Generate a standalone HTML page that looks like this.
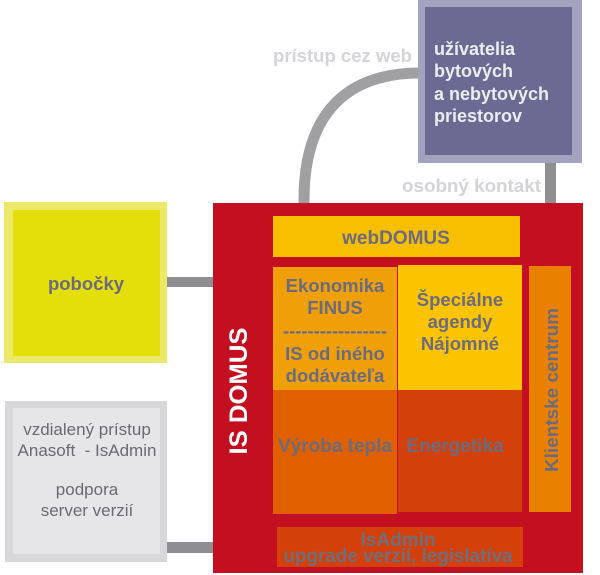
<!DOCTYPE html>
<html>
<head>
<meta charset="utf-8">
<style>
html,body{margin:0;padding:0;background:#fff;width:600px;height:575px;overflow:hidden;}
svg{display:block;}
text{font-family:"Liberation Sans", Arial, sans-serif;}
</style>
</head>
<body>
<svg width="600" height="575" viewBox="0 0 600 575" xmlns="http://www.w3.org/2000/svg">
  <!-- connectors -->
  <path d="M304 222 L304 200 C304 110 350 73 420 73" fill="none" stroke="#a0a0a2" stroke-width="11"/>
  <rect x="545" y="158" width="11" height="110" fill="#909094"/>
  <rect x="165" y="277" width="50" height="10" fill="#8e8e92"/>
  <rect x="165" y="542" width="110" height="11" fill="#8e8e92"/>

  <!-- labels -->
  <text x="273" y="62" font-size="18" font-weight="bold" fill="#d4d4d8" textLength="139" lengthAdjust="spacingAndGlyphs">prístup cez web</text>
  <text x="402" y="192" font-size="18" font-weight="bold" fill="#d4d4d8" textLength="139" lengthAdjust="spacingAndGlyphs">osobný kontakt</text>

  <!-- users box -->
  <rect x="418" y="0" width="164" height="163" fill="#a3a3bf"/>
  <rect x="425" y="7" width="147" height="148" fill="#6b6a93"/>
  <g font-size="18" font-weight="bold" fill="#ececf2">
    <text x="434" y="55">užívatelia</text>
    <text x="434" y="77">bytových</text>
    <text x="434" y="100">a nebytových</text>
    <text x="434" y="122">priestorov</text>
  </g>

  <!-- pobocky -->
  <rect x="4" y="202" width="163" height="161" fill="#ece86a"/>
  <rect x="13" y="210" width="147" height="146" fill="#e4df0a"/>
  <text x="86" y="290" font-size="18.5" font-weight="bold" fill="#6a6a80" text-anchor="middle">pobočky</text>

  <!-- gray box -->
  <rect x="5" y="401" width="162" height="161" fill="#d8d8da"/>
  <rect x="13" y="408" width="147" height="146" fill="#e6e6e8"/>
  <g font-size="17" fill="#6a6a72" text-anchor="middle">
    <text x="87" y="435">vzdialený prístup</text>
    <text x="87" y="456" xml:space="preserve">Anasoft  - IsAdmin</text>
    <text x="87" y="495">podpora</text>
    <text x="87" y="516">server verzií</text>
  </g>

  <!-- IS DOMUS red container -->
  <rect x="213" y="203" width="370" height="370" fill="#c40f21"/>
  <text transform="translate(247,391) rotate(-90)" font-size="25" font-weight="bold" fill="#ffffff" text-anchor="middle" textLength="127" lengthAdjust="spacingAndGlyphs">IS DOMUS</text>

  <!-- webDOMUS -->
  <rect x="273" y="216" width="247" height="41" fill="#f8bf00"/>
  <text x="396" y="244" font-size="19" font-weight="bold" fill="#6b6b80" text-anchor="middle">webDOMUS</text>

  <!-- columns -->
  <rect x="273" y="267" width="124" height="123" fill="#ef9f08"/>
  <rect x="398" y="265" width="124" height="125" fill="#fcc400"/>
  <rect x="273" y="390" width="124" height="124" fill="#e06000"/>
  <rect x="398" y="390" width="124" height="122" fill="#d4400a"/>
  <rect x="529" y="266" width="42" height="246" fill="#ea8000"/>

  <g font-size="18.5" font-weight="bold" fill="#6b6b80" text-anchor="middle">
    <text x="335" y="292">Ekonomika</text>
    <text x="335" y="314">FINUS</text>
    <text x="335" y="337" textLength="104" lengthAdjust="spacingAndGlyphs">-----------------</text>
    <text x="335" y="360">IS od iného</text>
    <text x="335" y="382">dodávateľa</text>
    <text x="460" y="306">Špeciálne</text>
    <text x="460" y="328">agendy</text>
    <text x="460" y="350">Nájomné</text>
    <text x="335" y="452" font-size="19">Výroba tepla</text>
    <text x="455" y="452" font-size="19">Energetika</text>
  </g>
  <text transform="translate(558,390) rotate(-90)" font-size="18.5" font-weight="bold" fill="#6b6b80" text-anchor="middle" textLength="164" lengthAdjust="spacingAndGlyphs">Klientske centrum</text>

  <!-- IsAdmin bar -->
  <svg x="277" y="527" width="246" height="40" overflow="hidden">
    <rect x="0" y="0" width="246" height="40" fill="#d4400a"/>
    <g font-size="19" font-weight="bold" fill="#6e6e7e" text-anchor="middle">
      <text x="121" y="19">IsAdmin</text>
      <text x="121" y="35" textLength="229" lengthAdjust="spacingAndGlyphs">upgrade verzií, legislatíva</text>
    </g>
  </svg>
</svg>
</body>
</html>
